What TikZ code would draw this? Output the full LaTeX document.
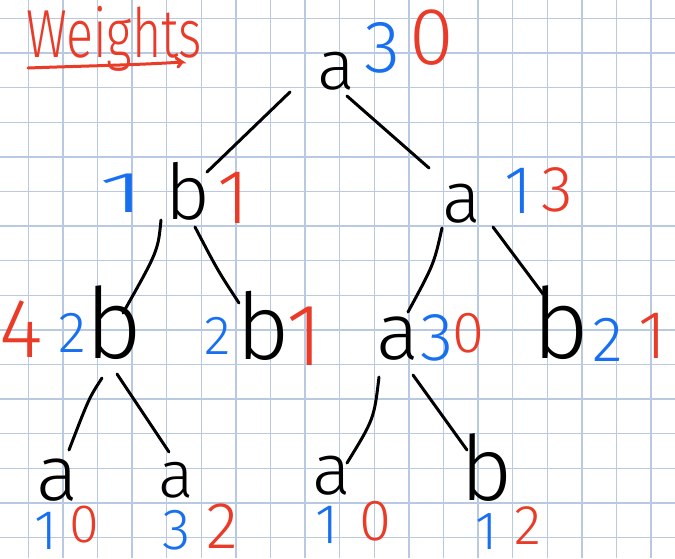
\documentclass[tikz,border=0pt]{standalone}
\usepackage{fontspec}
\newfontfamily\hand{Fira Sans Light}
\usetikzlibrary{calc}
\definecolor{gridc}{RGB}{186,201,226}
\definecolor{inkblue}{RGB}{24,112,240}
\definecolor{inkred}{RGB}{234,58,40}
\newcommand\fsz[1]{\fontsize{#1}{#1}\selectfont}
\begin{document}
\begin{tikzpicture}[x=1pt,y=-1pt,
  gl/.style={inner sep=0pt, outer sep=0pt, text=black, font={\hand\fsz{#1}}},
  bl/.style={inner sep=0pt, outer sep=0pt, text=inkblue, font={\hand\fsz{#1}}},
  rd/.style={inner sep=0pt, outer sep=0pt, text=inkred, font={\hand\fsz{#1}}},
  edge/.style={line width=3pt, line cap=round, black},
  gridline/.style={gridc, line width=1.5pt}]
\fill[white] (0,0) rectangle (675,558);
\useasboundingbox (0,0) rectangle (675,558);
% grid
\foreach \i in {0,...,18} \draw[gridline] ({28.3+34.6*\i},0) -- ({28.3+34.6*\i},558);
\foreach \j in {0,...,15} \draw[gridline] (0,{18.5+34.6*\j}) -- (675,{18.5+34.6*\j});
% title
\node[rd=68, anchor=base west] (title) at (26,57) {\scalebox{0.74}[1]{Weights}};
\draw[inkred, line width=3pt, line cap=round] (28,68) .. controls (80,66) and (140,65) .. (182,62)
  -- (176,58) (182,62) -- (178,67);
% root
\node[gl=70] (ra) at (336,71) {a};
\node[bl=74] (rab) at (382,48) {3};
\node[rd=81] (rar) at (432,38) {0};
% level 1 left
\node[bl=58] (b1b) at (122,193) {\scalebox{2}[1]{1}};
\node[gl=77] (b1) at (188,191) {b};
\node[rd=77] (b1r) at (233,198) {1};
% level 1 right
\node[gl=72] (a13) at (462,204) {a};
\node[bl=68] (a13b) at (519,191) {1};
\node[rd=65] (a13r) at (557,190) {3};
% level 2
\node[rd=84] (b42r) at (21,329) {4};
\node[bl=58] (b42b) at (72,333) {2};
\node[gl=98] (b42) at (114,323) {b};
\node[bl=55] (b21b) at (218,336) {2};
\node[gl=92] (b21) at (263,326) {b};
\node[rd=88] (b21r) at (305,336) {1};
\node[gl=80] (a30) at (398,339) {a};
\node[bl=68] (a30b) at (437,338) {3};
\node[rd=58] (a30r) at (468,333) {0};
\node[gl=98] (bb21) at (561,323) {b};
\node[bl=64] (bb21b) at (608,340) {2};
\node[rd=68] (bb21r) at (653,336) {1};
% level 3
\node[gl=78] (l1) at (57,480) {a};
\node[bl=56] (l1b) at (46,531) {1};
\node[rd=54] (l1r) at (84,525) {0};
\node[gl=66] (l2) at (176,480) {a};
\node[bl=58] (l2b) at (177,530) {3};
\node[rd=66] (l2r) at (222,526) {2};
\node[gl=72] (l3) at (332,476) {a};
\node[bl=56] (l3b) at (327,525) {1};
\node[rd=58] (l3r) at (375,521) {0};
\node[gl=90] (l4) at (487,468) {b};
\node[bl=54] (l4b) at (487,532) {1};
\node[rd=56] (l4r) at (528,526) {2};
% edges
\draw[edge] ($(ra)+(-46,21)$) -- ($(b1)+(19,-19)$);
\draw[edge] ($(ra)+(11,25)$) -- ($(a13)+(-33,-36)$);
\draw[edge] ($(b1)+(-27,29)$) .. controls ($(b1)+(-30,60)$) .. ($(b42)+(9,-10)$);
\draw[edge] ($(b1)+(7,36)$) .. controls ($(b1)+(30,80)$) .. ($(b21)+(-24,-23)$);
\draw[edge] ($(a13)+(-20,24)$) .. controls ($(a13)+(-28,60)$) .. ($(a30)+(10,-27)$);
\draw[edge] ($(a13)+(31,23)$) -- ($(bb21)+(-18,-29)$);
\draw[edge] ($(b42)+(-12,55)$) .. controls ($(b42)+(-25,75)$) .. ($(l1)+(12,-30)$);
\draw[edge] ($(b42)+(3,51)$) -- ($(l2)+(-7,-28)$);
\draw[edge] ($(a30)+(-19,38)$) .. controls ($(a30)+(-24,80)$) .. ($(l3)+(15,-13)$);
\draw[edge] ($(a30)+(15,36)$) -- ($(l4)+(-20,-18)$);
\end{tikzpicture}
\end{document}
